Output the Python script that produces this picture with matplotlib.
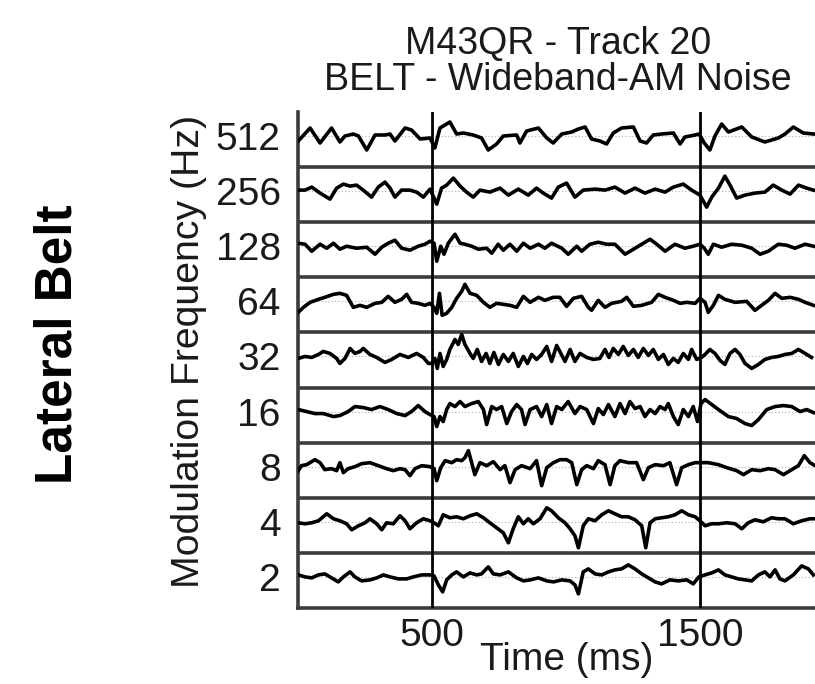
import matplotlib
matplotlib.use("Agg")
import matplotlib.pyplot as plt
import numpy as np

plt.rcParams['font.family'] = ['Liberation Sans', 'DejaVu Sans']

# ---------------- data (time in ms, deflection in display units) ----------------
freq_labels = ["512", "256", "128", "64", "32", "16", "8", "4", "2"]
xtick_vals = [500, 1500]

t_512 = [3, 47, 84, 127, 158, 177, 208, 227, 258, 289, 326, 345, 363, 401, 425, 457, 494, 512, 531, 568,
         593, 618, 655, 686, 711, 742, 767, 817, 829, 854, 898, 929, 953, 985, 1022, 1047, 1072, 1096, 1127, 1152,
         1177, 1208, 1252, 1277, 1301, 1326, 1357, 1401, 1426, 1444, 1482, 1497, 1516, 1537, 1556, 1581, 1606, 1656,
         1693, 1742, 1792, 1817, 1848, 1885, 1923]
v_512 = [-5, 8, -7, 8, -6, 0, 2, 0, -14, 1, 1, 2, -5, 8, 6, -3, -2, -12, 8, 14,
         2, 3, 1, -2, -14, -8, 0, 1, -7, 5, 8, -2, -7, 2, 4, 7, 9, -3, -5, -8,
         3, 8, 9, -5, -7, 1, 2, 3, -8, -1, 1, 2, -7, -14, 0, 12, 4, 9,
         -1, -6, -2, 2, 9, 3, 2]

t_256 = [3, 28, 53, 84, 121, 146, 171, 196, 220, 245, 276, 301, 326, 345, 363, 388, 419, 444, 469, 494,
         519, 537, 556, 581, 606, 630, 655, 680, 717, 755, 786, 823, 860, 891, 916,
         947, 972, 1003, 1034, 1065, 1109, 1146, 1183, 1221, 1258, 1295, 1333, 1370, 1401, 1438, 1469, 1500,
         1525, 1544, 1569, 1593, 1612, 1637, 1668, 1705, 1742, 1773, 1805, 1836, 1867, 1898, 1923]
v_256 = [1, 1, 4, -2, -8, 3, 7, 5, 6, 1, -6, 4, 9, 3, -6, 1, 1, -1, -6, 2,
         -13, 3, 6, 13, 5, -1, -6, 1, -1, 3, -4, 2, -4, 3, -2,
         -7, 4, 8, -6, 1, 2, 1, 4, -2, 3, -2, 2, -1, 4, 7, 1, -4,
         -16, -6, 3, 15, 6, -7, -4, -2, -1, 6, 1, -3, 6, 3, 1]

t_128 = [3, 28, 53, 84, 109, 134, 158, 183, 220, 258, 289, 314, 338, 363, 388, 419, 450, 475, 494, 509,
         519, 534, 546, 562, 587, 606, 624, 649, 674, 705, 724, 748, 767, 792, 817, 842, 867, 898, 922, 947,
         985, 1009, 1041, 1059, 1090, 1121, 1152, 1183, 1221, 1246, 1283, 1314, 1339, 1370, 1407, 1444, 1475,
         1500, 1516, 1531, 1550, 1581, 1618, 1656, 1693, 1724, 1755, 1792, 1823, 1854, 1892, 1923]
v_128 = [3, 2, -5, 2, -2, 3, -3, 0, -2, -1, -8, -1, 3, 6, -2, -4, 0, 2, 5, 3,
         -15, 0, -8, 3, 12, 3, 2, 0, -3, -2, -7, 2, -4, 2, -5, 3, -2, 2, -2, 3,
         -2, -8, 0, -5, 2, 4, 2, 2, -8, -4, 2, 7, 2, -5, 2, -2, 0,
         2, -2, -8, 2, -1, 2, 1, -2, -8, -5, 2, 1, -2, 2, 0]

t_64 = [3, 22, 47, 78, 102, 134, 158, 183, 208, 233, 258, 289, 314, 338, 363, 388, 407, 425, 450, 475,
        494, 509, 519, 529, 539, 556, 575, 593, 612, 624, 643, 668, 693, 717, 742, 767, 792, 817, 842, 867,
        898, 922, 953, 978, 1003, 1028, 1059, 1084, 1096, 1121, 1146, 1171, 1208, 1227, 1252, 1283, 1320,
        1345, 1370, 1401, 1426, 1451, 1482, 1500, 1519, 1531, 1550, 1569, 1593, 1631, 1674, 1705, 1730,
        1755, 1780, 1805, 1836, 1867, 1892, 1923]
v_64 = [-11, -6, -1, 2, 4, 7, 8, 6, -6, -4, -6, -2, -1, 5, -1, 2, 7, -1, -2, -4,
        -2, -6, -12, 8, -14, -12, -6, 3, 10, 17, 8, 6, -1, -6, -2, -3, -4, -6, 5, -1,
        4, 1, 4, 4, -5, 3, 5, -6, -9, 1, -6, -2, 0, 4, -5, -4, -1,
        7, 4, 1, -2, -1, -2, 3, -1, -11, -4, 6, 2, -1, 0, -9, -4,
        1, 8, 3, 4, 2, -1, -4]

t_32 = [3, 28, 53, 78, 96, 121, 146, 158, 177, 196, 214, 233, 245, 270, 295, 326, 351, 382, 413, 444,
        469, 488, 500, 512, 521, 531, 543, 556, 568, 587, 599, 612, 624, 643, 655, 670, 686, 703, 717, 732,
        749, 767, 786, 804, 823, 842, 857, 873, 891, 910, 929, 947, 966,
        997, 1016, 1034, 1053, 1078, 1103, 1127, 1146, 1161, 1177, 1196, 1214, 1233, 1252, 1270, 1289, 1308,
        1326, 1345, 1364, 1382, 1401, 1419, 1438, 1457, 1469, 1488, 1506, 1519, 1537, 1556, 1575, 1593,
        1612, 1631, 1649, 1668, 1693, 1718, 1742, 1767, 1792, 1817, 1842, 1867, 1892, 1916]
v_32 = [-2, 0, -1, 2, 5, 3, -2, -7, -2, 8, 3, 5, 8, 2, -1, -6, -3, 2, -1, 3,
        -1, -7, -7, -2, -12, 3, -10, -3, 7, 17, 12, 22, 12, 3, -2, 7, -5, 3, -7, 4,
        -8, 2, -5, 3, -10, 0, -7, 2, -3, 2, 10, -5, 11,
        -5, 7, -5, 3, -1, -3, -2, 7, -1, 8, 2, 10, 1, 7, -1, 8, 1,
        7, -3, 2, -8, -2, -6, 3, -3, 7, -3, -1, 2, 7, 3, -4, -8,
        3, 7, 2, -7, -12, -8, -3, -1, 0, 2, 3, 7, 3, -1]

t_16 = [3, 34, 65, 96, 134, 158, 189, 214, 245, 276, 307, 338, 370, 401, 425, 450, 475, 494, 509, 519,
        531, 543, 556, 568, 587, 606, 624, 649, 674, 693, 705, 724, 742, 761, 780, 798, 817, 835, 848, 867,
        891, 910, 929, 947, 966,
        985, 1009, 1034, 1053, 1078, 1103, 1121, 1140, 1159, 1183, 1202, 1221, 1239, 1258, 1277, 1295, 1314,
        1333, 1351, 1370, 1382, 1401, 1419, 1438, 1457, 1475, 1491, 1504, 1519, 1544, 1569, 1606, 1637,
        1668, 1693, 1718, 1749, 1780, 1811, 1842, 1873, 1898, 1923]
v_16 = [2, 0, -2, -2, -5, -4, 0, 5, 4, 2, 5, 2, -2, -4, 0, 6, 0, -3, -5, -15,
        -5, -10, 2, 8, 5, 10, 5, 8, 10, 2, -13, 5, 2, 5, -12, 0, 7, 2, -13, 2,
        5, -5, 7, -12, 5,
        2, 10, -2, 5, 2, -12, 3, -3, 7, -5, 8, -2, 10, 3, 5, -5, 2,
        -2, 5, 2, 8, -5, -13, 2, -5, 5, -10, 8, 12, 7, 2, -5, -7,
        -12, -14, -8, 2, 5, 6, 5, 0, 2, -1]

t_8 = [3, 15, 34, 65, 84, 102, 127, 146, 158, 171, 189, 214, 239, 270, 301, 332, 357, 382, 401, 419,
       438, 463, 494, 509, 519, 534, 550, 575, 593, 612, 624, 637, 649, 661, 680, 705, 730, 755, 773, 792,
       811, 835, 867, 891, 910, 929,
       954, 978, 1003, 1022, 1041, 1059, 1078, 1103, 1121, 1146, 1165, 1183, 1202, 1233, 1264, 1289, 1308,
       1333, 1364, 1388, 1413, 1432, 1457, 1482, 1500, 1531, 1569, 1600, 1637, 1662, 1693, 1724, 1755,
       1780, 1811, 1842, 1867, 1889, 1910, 1929]
v_8 = [-4, 1, 2, 7, 4, -3, -2, -4, 4, -6, -2, 0, 3, 4, 1, -2, -4, -2, -3, -9,
       -2, 1, 0, -2, -14, -1, 6, 4, 7, 6, 9, 16, 4, -8, 4, 1, 5, -3, 1, -16,
       -3, 1, -2, 6, -19, -1,
       4, 7, 7, 4, -18, -3, 1, -2, 6, 2, -18, 1, 6, 4, 4, -13, -1,
       2, 1, 4, -18, -1, 2, 4, 4, 4, 2, -1, -4, -8, -3, -4, -2,
       -3, -8, -3, 1, 11, 4, 1]

t_4 = [3, 28, 53, 78, 109, 134, 158, 183, 202, 227, 252, 270, 295, 314, 332, 357, 382, 401, 419, 444,
       469, 494, 509, 525, 543, 568, 593, 618, 643, 668, 693, 717, 742, 767, 786, 804, 823, 842, 860, 879,
       904, 929,
       947, 972, 997, 1016, 1034, 1047, 1065, 1084, 1109, 1134, 1159, 1183, 1208, 1233, 1258, 1283, 1298,
       1314, 1333, 1357, 1382, 1407, 1432, 1457, 1482, 1500, 1519, 1544, 1569, 1600, 1631, 1656, 1680,
       1705, 1736, 1767, 1792, 1817, 1848, 1879, 1910, 1929]
v_4 = [-1, -2, -1, 1, 8, 3, 1, -2, -8, -4, -1, 3, -2, -8, -1, -2, 6, 1, -7, -1,
       3, 1, -1, -4, 7, 4, 5, 3, 6, 8, 4, -1, -6, -11, -21, -7, 5, -2, 3, -2,
       3, 14,
       11, 4, -1, -7, -14, -26, -4, 3, 1, 7, 11, 8, 5, 5, 2, -4, -26,
       -1, 3, 4, 5, 7, 11, 7, 5, 1, -4, -2, -2, -1, -2, -7, -1,
       2, 0, 4, 3, 3, -2, 1, 3, 3]

t_2 = [3, 28, 53, 78, 102, 127, 152, 171, 196, 214, 239, 270, 295, 320, 345, 376, 407, 432, 463, 494,
       509, 525, 541, 556, 575, 593, 618, 643, 668, 686, 711, 730, 755, 786, 817, 842, 867, 898, 929,
       954, 985, 1016, 1034, 1047, 1065, 1084, 1109, 1134, 1159, 1183, 1208, 1233, 1258, 1283, 1308,
       1333, 1357, 1388, 1419, 1451, 1475, 1496, 1519, 1544, 1569, 1593, 1618, 1643, 1668, 1693, 1718,
       1742, 1761, 1780, 1798, 1817, 1848, 1879, 1904, 1923]
v_2 = [2, 0, -1, 2, 3, -1, -5, 0, 5, 0, -4, -3, -1, 2, 0, -2, -2, 0, 2, 2,
       1, -8, -15, -3, 2, 5, 0, 4, 2, 3, 10, 3, 2, 5, -1, -4, -3, -1, -4,
       -5, -3, -4, -8, -17, 5, 8, 3, 2, 5, 7, 8, 12, 8, 3, -1,
       -5, -7, -3, -4, -3, -7, 0, 2, 4, 7, 2, 0, -2, -3, -4, 2,
       5, 0, 7, -2, -4, 2, 11, 8, 2]

traces = [(t_512, v_512), (t_256, v_256), (t_128, v_128), (t_64, v_64), (t_32, v_32),
          (t_16, v_16), (t_8, v_8), (t_4, v_4), (t_2, v_2)]

# ---------------- layout ----------------
W, H = 815, 684
fig = plt.figure(figsize=(W / 100, H / 100), dpi=100)
ax_l, ax_t, ax_b, ax_r = 297.5, 112, 608, 815
ax = fig.add_axes([ax_l / W, 1 - ax_b / H, (ax_r - ax_l) / W, (ax_b - ax_t) / H])

n = len(traces)
row_h = (ax_b - ax_t) / n
base_off = 24
px_per_ms = 0.2683
ax.set_xlim(0, (ax_r - ax_l) / px_per_ms)
ax.set_ylim(0, n * row_h)

baselines = []
for i, (t, v) in enumerate(traces):
    base = n * row_h - base_off - i * row_h
    baselines.append(base)
    ax.axhline(base, color='#d2a878', lw=0.8, ls=(0, (1, 2)), zorder=1)
    ax.plot(t, np.asarray(v, dtype=float) + base, color='black', lw=2.6,
            solid_joinstyle='round', zorder=3)

for k in range(1, n):
    ax.axhline(k * row_h, color='#3c3c3c', lw=2.6, zorder=2)
for xv in xtick_vals:
    ax.axvline(xv, color='black', lw=2.0, zorder=4)

for s in ['top', 'right']:
    ax.spines[s].set_visible(False)
for s in ['left', 'bottom']:
    ax.spines[s].set_color('#3c3c3c')
    ax.spines[s].set_linewidth(2.6)

ax.set_yticks(baselines)
ax.set_yticklabels(freq_labels)
ax.set_xticks(xtick_vals)
ax.set_xticklabels([str(x) for x in xtick_vals])
ax.tick_params(axis='both', length=0, labelsize=28, colors='#1a1a1a')
ax.tick_params(axis='y', pad=12)
ax.tick_params(axis='x', pad=7)

fig.text(558 / W, 1 - 44 / H, "M43QR - Track 20", ha='center', va='center', fontsize=27, color='#1a1a1a')
fig.text(558 / W, 1 - 80 / H, "BELT - Wideband-AM Noise", ha='center', va='center', fontsize=27, color='#1a1a1a')
fig.text(567 / W, 1 - 660 / H, "Time (ms)", ha='center', va='center', fontsize=28, color='#1a1a1a')
fig.text(189 / W, 1 - 351 / H, "Modulation Frequency (Hz)", ha='center', va='center',
         rotation=90, fontsize=28.3, color='#1a1a1a')
fig.text(58 / W, 1 - 344 / H, "Lateral Belt", ha='center', va='center',
         rotation=90, fontsize=37, fontweight='bold', color='black')

fig.savefig("out.png", dpi=100)
